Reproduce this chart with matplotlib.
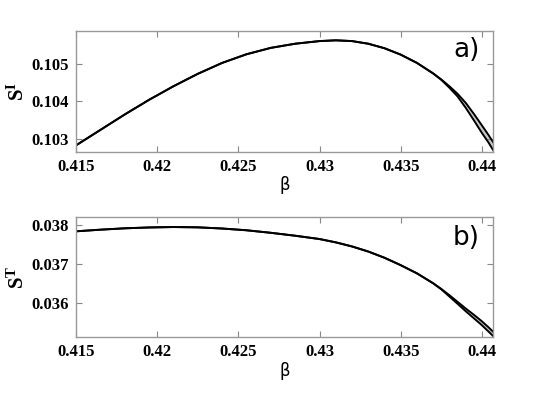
import matplotlib
matplotlib.use('Agg')
import matplotlib.pyplot as plt

# beta grid and the two bounding curves of each panel
beta = [0.415, 0.4165, 0.418, 0.4195, 0.421, 0.4225, 0.424, 0.4255, 0.427,
        0.4285, 0.43, 0.431, 0.432, 0.433, 0.434, 0.435, 0.436, 0.437,
        0.4375, 0.438, 0.4385, 0.439, 0.4395, 0.44, 0.4404, 0.4407]

sI_hi = [0.10283, 0.10324, 0.10365, 0.10404, 0.10440, 0.10473, 0.10502, 0.10525,
         0.10542, 0.10553, 0.10560, 0.10562, 0.10560, 0.10553, 0.10541, 0.10524,
         0.10502, 0.10474, 0.10458, 0.10440, 0.10420, 0.10396, 0.10367, 0.10336,
         0.10311, 0.10291]
sI_lo = [0.10283, 0.10324, 0.10365, 0.10404, 0.10440, 0.10473, 0.10502, 0.10525,
         0.10542, 0.10553, 0.10560, 0.10562, 0.10560, 0.10553, 0.10541, 0.10524,
         0.10502, 0.10474, 0.10457, 0.10436, 0.10413, 0.10383, 0.10350, 0.10316,
         0.10291, 0.10270]

sT_hi = [0.037838, 0.037880, 0.037915, 0.037937, 0.037948, 0.037940, 0.037910,
         0.037865, 0.037800, 0.037725, 0.037640, 0.037555, 0.037450, 0.037320,
         0.037160, 0.036970, 0.036760, 0.036505, 0.036360, 0.036200, 0.036030,
         0.035860, 0.035700, 0.035530, 0.035380, 0.035260]
sT_lo = [0.037838, 0.037880, 0.037915, 0.037937, 0.037948, 0.037940, 0.037910,
         0.037865, 0.037800, 0.037725, 0.037640, 0.037555, 0.037450, 0.037320,
         0.037160, 0.036970, 0.036760, 0.036505, 0.036350, 0.036165, 0.035980,
         0.035790, 0.035610, 0.035430, 0.035270, 0.035150]

xticks = [0.415, 0.42, 0.425, 0.43, 0.435, 0.44]
xticklabels = ['0.415', '0.42', '0.425', '0.43', '0.435', '0.44']

plt.rcParams['mathtext.fontset'] = 'custom'
plt.rcParams['mathtext.bf'] = 'Liberation Serif:bold'
plt.rcParams['mathtext.rm'] = 'Liberation Serif'

fig = plt.figure(figsize=(5.45, 3.95), dpi=100)
ax1 = fig.add_axes([0.1394, 0.6160, 0.7657, 0.3063])
ax2 = fig.add_axes([0.1394, 0.1461, 0.7657, 0.3053])

panels = [
    (ax1, sI_hi, sI_lo, (0.102663, 0.105876), [0.103, 0.104, 0.105],
     ['0.103', '0.104', '0.105'], r'$\mathbf{S^{I}}$', 'a)', 0.95),
    (ax2, sT_hi, sT_lo, (0.035121, 0.038213), [0.036, 0.037, 0.038],
     ['0.036', '0.037', '0.038'], r'$\mathbf{S^{T}}$', 'b)', 0.935),
]

for ax, hi, lo, ylim, yt, ytl, ylab, tag, ty in panels:
    ax.fill_between(beta, lo, hi, color='#c8c8c8', lw=0)
    ax.plot(beta, hi, color='black', lw=1.4)
    ax.plot(beta, lo, color='black', lw=1.4)
    ax.set_xlim(0.415, 0.4407)
    ax.set_ylim(*ylim)
    ax.set_xticks(xticks)
    ax.set_xticklabels(xticklabels, fontfamily='Liberation Serif',
                       fontweight='bold', fontsize=12)
    ax.set_yticks(yt)
    ax.set_yticklabels(ytl, fontfamily='Liberation Serif',
                       fontweight='bold', fontsize=12)
    ax.tick_params(direction='in', length=4, width=0.8, color='#888888',
                   top=True, right=True, pad=5)
    for sp in ax.spines.values():
        sp.set_color('#999999')
        sp.set_linewidth(1.0)
    ax.set_xlabel('β', fontfamily='DejaVu Sans', fontsize=12, labelpad=1)
    ax.set_ylabel(ylab, fontsize=15, labelpad=3)
    ax.text(0.968, ty, tag, transform=ax.transAxes, ha='right', va='top',
            fontfamily='DejaVu Sans', fontsize=19)

fig.savefig('out.png', dpi=100)
